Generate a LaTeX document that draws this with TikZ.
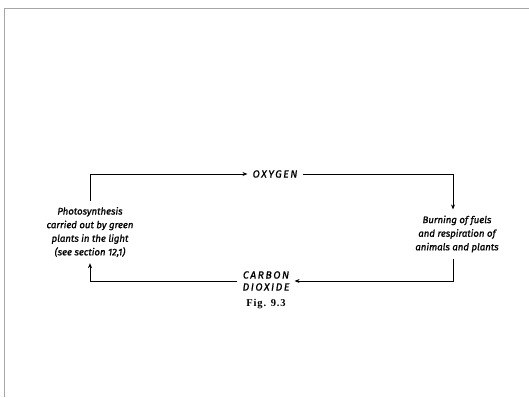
\documentclass[tikz,border=0pt]{standalone}
\usepackage{fontspec}
\setmainfont[FakeBold=1.2]{Fira Sans}
\newfontfamily\capsfont[LetterSpace=15,FakeBold=1.2]{Fira Sans}
\newfontfamily\figfont[LetterSpace=8]{Liberation Serif}
\usepackage{tikz}
\usetikzlibrary{positioning,arrows.meta}

\begin{document}
\begin{tikzpicture}[x=1pt, y=-1pt,
      every node/.style={align=center},
      process/.style={font=\fontsize{9.6}{13.6}\selectfont\itshape, inner sep=6pt},
      gas/.style={font=\fontsize{10.4}{12}\selectfont\capsfont\itshape, inner sep=5pt},
      caption/.style={font=\fontsize{10.5}{11}\selectfont\figfont\bfseries, inner sep=1pt},
      arr/.style={-{Stealth[length=5pt,width=4pt]}, line width=0.9pt},
      frame/.style={draw=black!35, line width=1pt}
  ]
    \useasboundingbox (0,0) rectangle (529,397);
    \draw[frame] (4,397) -- (4,8) -- (529,8);
    \node[gas] (oxy) at (275,174) {OXYGEN};
    \node[process] (photo) at (90,232) {Photosynthesis\\carried out by green\\plants in the light\\(see section 12,1)};
    \node[process] (burn) at (457,234) {Burning of fuels\\and respiration of\\animals and plants};
    \node[gas] (co2) at (266,281) {CARBON\\DIOXIDE};
    \node[caption, below=2pt of co2] (fig) {Fig. 9.3};
    \draw[arr] (photo.north) |- (oxy.west);
    \draw[arr] (oxy.east) -| ([xshift=-4pt]burn.north);
    \draw[arr] ([xshift=-4pt]burn.south) |- (co2.east);
    \draw[arr] (co2.west) -| (photo.south);
  \end{tikzpicture}
\end{document}
